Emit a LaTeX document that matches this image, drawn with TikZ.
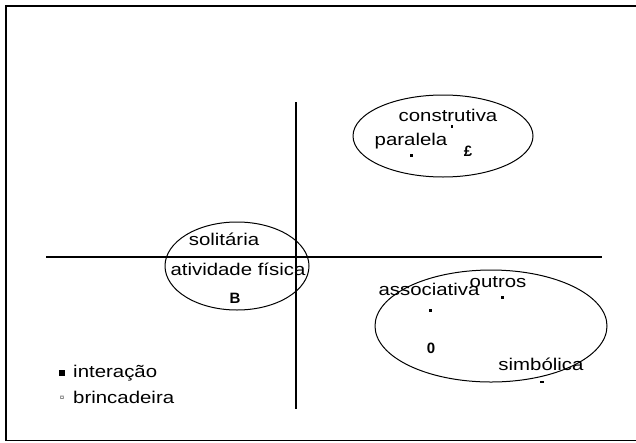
\documentclass[tikz,border=0pt]{standalone}
\usepackage{fontspec}
\setmainfont{Liberation Sans}
\begin{document}
\begin{tikzpicture}[x=1pt,y=-1pt,
  lbl/.style={font=\fontsize{17}{19}\selectfont, inner sep=0pt, xscale=1.2, transform shape},
  tiny/.style={font=\fontsize{15}{16}\selectfont\bfseries, inner sep=0pt},
  ring/.style={draw=black, line width=1pt},
  axis/.style={draw=black, line width=1.2pt}]
\useasboundingbox (0,0) rectangle (636,442);
% frame
\draw[line width=1.8pt] (645,6) -- (6,6) -- (6,440.5) -- (645,440.5);
% axes
\coordinate (hl) at (46,257); \coordinate (hr) at (602,257);
\coordinate (vt) at (296,102); \coordinate (vb) at (296,409);
\draw[axis] (hl) -- (hr);
\draw[axis] (vt) -- (vb);
% ellipses
\draw[ring] (443,136) ellipse [x radius=90, y radius=41];
\draw[ring] (237,266) ellipse [x radius=72, y radius=44];
\draw[ring] (491,326) ellipse [x radius=116, y radius=56];
% labels
\node[lbl, anchor=base] (constr) at (448,121) {construtiva};
\node[lbl, anchor=base] (paral) at (411,145) {paralela};
\node[lbl, anchor=base] (solit) at (224,245) {solitária};
\node[lbl, anchor=base] (ativ) at (238,275) {atividade física};
\node[lbl, anchor=base] (outros) at (498,287) {outros};
\node[lbl, anchor=base] (assoc) at (429,295) {associativa};
\node[lbl, anchor=base] (simb) at (541,370) {simbólica};
% small marks
\node[tiny] (mB) at (235,298) {B};
\node[tiny] (m0) at (431,348) {0};
\node[tiny] (mL) at (468,151) {£};
\fill (410,154) rectangle +(3,3);
\fill (451,125) rectangle +(2,3);
\fill (429,309) rectangle +(3,3);
\fill (501,296) rectangle +(3,3);
\fill (540,381) rectangle +(4,1.5);
% legend
\fill (59,370) rectangle +(6,6);
\node[tiny, font=\fontsize{8}{9}\selectfont, text=black!70] (mP) at (62,398) {¤};
\node[lbl, anchor=base west] (inter) at (73,377) {interação};
\node[lbl, anchor=base west] (brinc) at (73,403) {brincadeira};
\end{tikzpicture}
\end{document}
